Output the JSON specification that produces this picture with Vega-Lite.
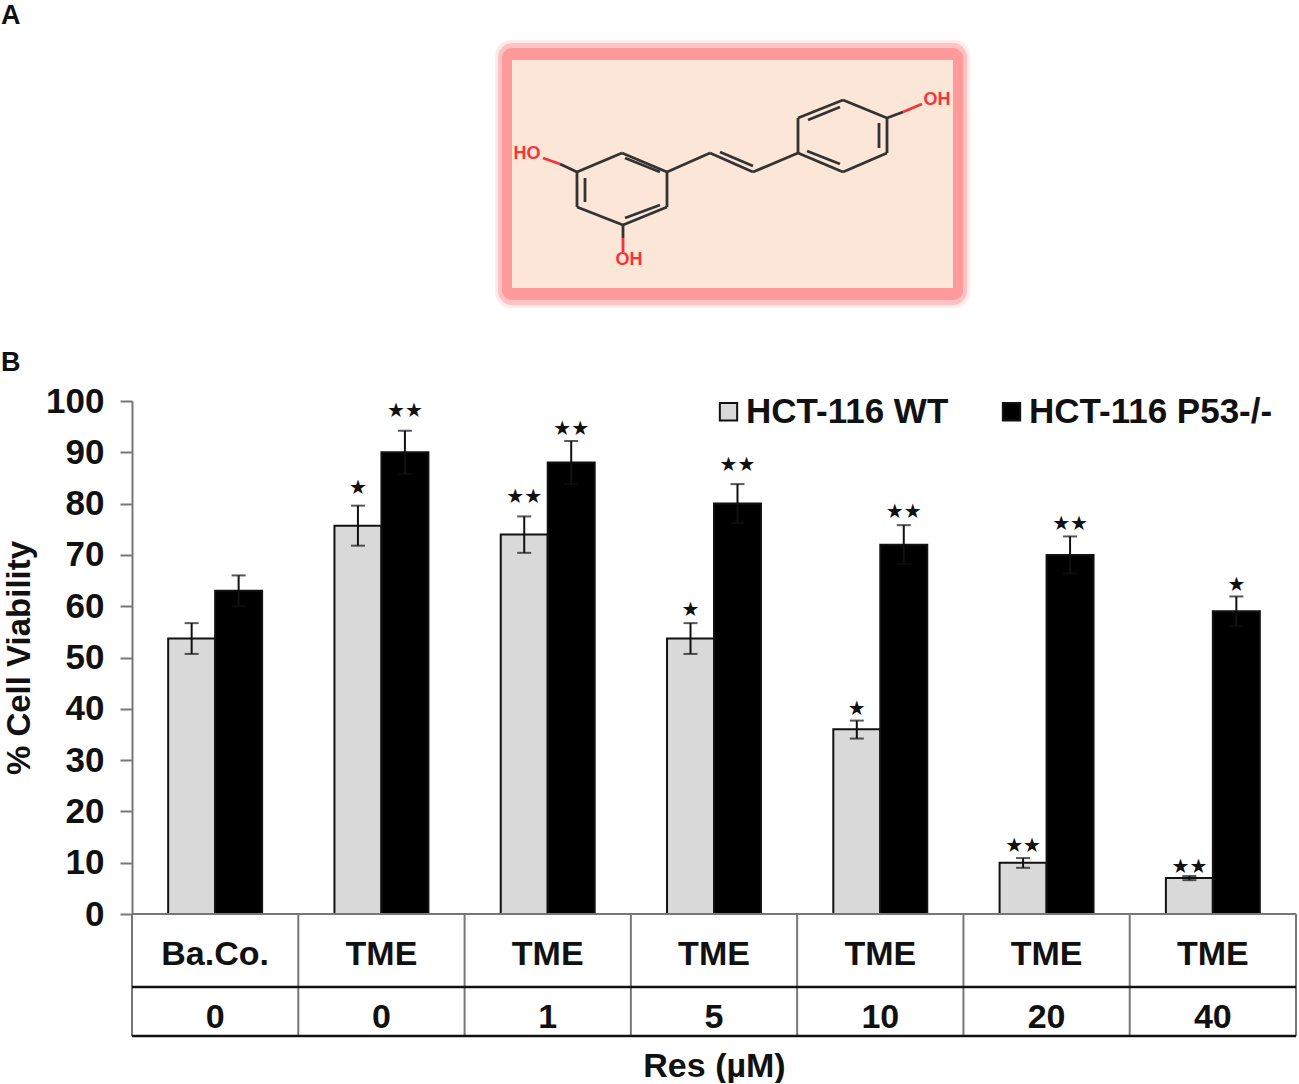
{"$schema":"https://vega.github.io/schema/vega-lite/v6.json","background":"white","padding":{"left":1,"top":2,"right":0,"bottom":0},"spacing":0,"bounds":"flush","resolve":{"scale":{"color":"independent"},"legend":{"color":"independent"}},"config":{"view":{"stroke":null},"font":"Liberation Sans","axis":{"grid":false}},"datasets":{"bars":[
{"group":"Ba.Co. 0","series":"HCT-116 WT","value":53.7,"low":50.7,"high":56.7,"stars":"","starY":0},
{"group":"TME 0","series":"HCT-116 WT","value":75.7,"low":71.8,"high":79.6,"stars":"★","starY":83},
{"group":"TME 1","series":"HCT-116 WT","value":74,"low":70.4,"high":77.5,"stars":"★★","starY":81.3},
{"group":"TME 5","series":"HCT-116 WT","value":53.7,"low":50.7,"high":56.7,"stars":"★","starY":59.3},
{"group":"TME 10","series":"HCT-116 WT","value":36,"low":34.2,"high":37.7,"stars":"★","starY":40},
{"group":"TME 20","series":"HCT-116 WT","value":10,"low":9,"high":10.9,"stars":"★★","starY":13.3},
{"group":"TME 40","series":"HCT-116 WT","value":7,"low":6.6,"high":7.4,"stars":"★★","starY":9.2},
{"group":"Ba.Co. 0","series":"HCT-116 P53-/-","value":63,"low":60,"high":66,"stars":"","starY":0},
{"group":"TME 0","series":"HCT-116 P53-/-","value":90,"low":85.8,"high":94.2,"stars":"★★","starY":98},
{"group":"TME 1","series":"HCT-116 P53-/-","value":88,"low":83.8,"high":92.2,"stars":"★★","starY":94.5},
{"group":"TME 5","series":"HCT-116 P53-/-","value":80,"low":76.2,"high":83.8,"stars":"★★","starY":87.5},
{"group":"TME 10","series":"HCT-116 P53-/-","value":72,"low":68.2,"high":75.8,"stars":"★★","starY":78.4},
{"group":"TME 20","series":"HCT-116 P53-/-","value":70,"low":66.4,"high":73.6,"stars":"★★","starY":76},
{"group":"TME 40","series":"HCT-116 P53-/-","value":59,"low":56.1,"high":61.9,"stars":"★","starY":64.1}],
"table":[{"group":"Ba.Co. 0","treat":"Ba.Co.","res":"0"},{"group":"TME 0","treat":"TME","res":"0"},{"group":"TME 1","treat":"TME","res":"1"},{"group":"TME 5","treat":"TME","res":"5"},{"group":"TME 10","treat":"TME","res":"10"},{"group":"TME 20","treat":"TME","res":"20"},{"group":"TME 40","treat":"TME","res":"40"}],
"bonds":[
{"kind":"bond","x":577,"y":172,"x2":622,"y2":153},{"kind":"bond","x":622,"y":153,"x2":667,"y2":172},{"kind":"bond","x":667,"y":172,"x2":667,"y2":207},{"kind":"bond","x":667,"y":207,"x2":623,"y2":225},{"kind":"bond","x":623,"y":225,"x2":577,"y2":207},{"kind":"bond","x":577,"y":207,"x2":577,"y2":172},
{"kind":"bond","x":585,"y":178,"x2":585,"y2":202},{"kind":"bond","x":625,"y":158,"x2":660,"y2":172},{"kind":"bond","x":660,"y":205,"x2":625,"y2":218},
{"kind":"bond","x":667,"y":172,"x2":710,"y2":153},{"kind":"bond","x":710,"y":153,"x2":753,"y2":172},{"kind":"bond","x":753,"y":172,"x2":798,"y2":153},{"kind":"bond","x":720,"y":152,"x2":753,"y2":166},
{"kind":"bond","x":798,"y":153,"x2":798,"y2":118},{"kind":"bond","x":798,"y":118,"x2":843,"y2":100},{"kind":"bond","x":843,"y":100,"x2":887,"y2":118},{"kind":"bond","x":887,"y":118,"x2":887,"y2":153},{"kind":"bond","x":887,"y":153,"x2":843,"y2":172},{"kind":"bond","x":843,"y":172,"x2":798,"y2":153},
{"kind":"bond","x":808,"y":120,"x2":840,"y2":107},{"kind":"bond","x":879,"y":123,"x2":879,"y2":148},{"kind":"bond","x":840,"y":164,"x2":807,"y2":151},
{"kind":"bond","x":887,"y":118,"x2":903,"y2":112},{"kind":"hydroxyl","x":903,"y":112,"x2":922,"y2":104},
{"kind":"bond","x":577,"y":172,"x2":560,"y2":164},{"kind":"hydroxyl","x":560,"y":164,"x2":543,"y2":158},
{"kind":"bond","x":623,"y":225,"x2":623,"y2":238},{"kind":"hydroxyl","x":623,"y":238,"x2":623,"y2":252}],
"atoms":[{"x":937,"y":100,"t":"OH"},{"x":527,"y":154,"t":"HO"},{"x":629,"y":260,"t":"OH"}]},
"vconcat":[
{"title":{"text":"A","anchor":"start","frame":"group","dx":-131,"dy":2,"fontSize":27,"fontWeight":"bold","color":"#111","offset":0},
"width":1164,"height":373,
"layer":[
{"data":{"values":[{"x":495,"x2":970,"y":40,"y2":308}]},"mark":{"type":"rect","fill":"#ff9a9a","opacity":0.2,"cornerRadius":16},"encoding":{"x":{"field":"x","type":"quantitative","scale":{"domain":[132,1296],"nice":false,"zero":false},"axis":null},"x2":{"field":"x2"},"y":{"field":"y","type":"quantitative","scale":{"domain":[401,28],"nice":false,"zero":false},"axis":null},"y2":{"field":"y2"}}},
{"data":{"values":[{"x":498,"x2":967,"y":43,"y2":305}]},"mark":{"type":"rect","fill":"#ff9a9a","opacity":0.5,"cornerRadius":14},"encoding":{"x":{"field":"x","type":"quantitative","scale":{"domain":[132,1296],"nice":false,"zero":false}},"x2":{"field":"x2"},"y":{"field":"y","type":"quantitative","scale":{"domain":[401,28],"nice":false,"zero":false}},"y2":{"field":"y2"}}},
{"data":{"values":[{"x":502,"x2":963,"y":48,"y2":300}]},"mark":{"type":"rect","fill":"#ff9a9a","cornerRadius":10},"encoding":{"x":{"field":"x","type":"quantitative","scale":{"domain":[132,1296],"nice":false,"zero":false}},"x2":{"field":"x2"},"y":{"field":"y","type":"quantitative","scale":{"domain":[401,28],"nice":false,"zero":false}},"y2":{"field":"y2"}}},
{"data":{"values":[{"x":512,"x2":953,"y":60,"y2":288}]},"mark":{"type":"rect","fill":"#fbe6d8"},"encoding":{"x":{"field":"x","type":"quantitative","scale":{"domain":[132,1296],"nice":false,"zero":false}},"x2":{"field":"x2"},"y":{"field":"y","type":"quantitative","scale":{"domain":[401,28],"nice":false,"zero":false}},"y2":{"field":"y2"}}},
{"data":{"name":"bonds"},"mark":{"type":"rule","strokeWidth":2.8},"encoding":{"x":{"field":"x","type":"quantitative","scale":{"domain":[132,1296],"nice":false,"zero":false}},"x2":{"field":"x2"},"y":{"field":"y","type":"quantitative","scale":{"domain":[401,28],"nice":false,"zero":false}},"y2":{"field":"y2"},"color":{"field":"kind","type":"nominal","scale":{"domain":["bond","hydroxyl"],"range":["#333333","#f5333a"]},"legend":null}}},
{"data":{"name":"atoms"},"mark":{"type":"text","color":"#f5333a","fontSize":18,"fontWeight":"bold","baseline":"middle"},"encoding":{"x":{"field":"x","type":"quantitative","scale":{"domain":[132,1296],"nice":false,"zero":false}},"y":{"field":"y","type":"quantitative","scale":{"domain":[401,28],"nice":false,"zero":false}},"text":{"field":"t"}}}
]},
{"title":{"text":"B","anchor":"start","frame":"group","dx":-131,"fontSize":27,"fontWeight":"bold","color":"#111","offset":7},
"width":1164,"height":513,
"data":{"name":"bars"},
"encoding":{"x":{"field":"group","type":"nominal","sort":null,"scale":{"paddingInner":0.435,"paddingOuter":0.2175},"axis":null},"xOffset":{"field":"series","type":"nominal","sort":["HCT-116 WT","HCT-116 P53-/-"]}},
"layer":[
{"mark":{"type":"bar","stroke":"#111","strokeWidth":2},"encoding":{"y":{"field":"value","type":"quantitative","scale":{"domain":[0,100],"nice":false},"axis":{"values":[0,10,20,30,40,50,60,70,80,90,100],"title":"% Cell Viability","titleFontSize":33,"titleFontWeight":"bold","titleColor":"#111","titlePadding":9,"labelFontSize":35,"labelFontWeight":"bold","labelColor":"#111","labelPadding":16,"tickSize":12,"tickColor":"#777","tickWidth":2,"domainColor":"#777","domainWidth":2}},"color":{"field":"series","type":"nominal","scale":{"domain":["HCT-116 WT","HCT-116 P53-/-"],"range":["#d9d9d9","#000000"]},"legend":{"orient":"none","legendX":579,"legendY":-7,"direction":"horizontal","columns":2,"title":null,"symbolType":"square","symbolSize":300,"symbolStrokeColor":"#111","symbolStrokeWidth":2,"symbolOpacity":1,"labelFontSize":35,"labelFontWeight":"bold","labelColor":"#111","labelOffset":0,"columnPadding":45,"labelLimit":400}}}},
{"mark":{"type":"rule","color":"#111","strokeWidth":2},"encoding":{"y":{"field":"low","type":"quantitative"},"y2":{"field":"high"}}},
{"mark":{"type":"tick","orient":"horizontal","color":"#111","size":14,"thickness":2},"encoding":{"y":{"field":"high","type":"quantitative"}}},
{"mark":{"type":"tick","orient":"horizontal","color":"#111","size":14,"thickness":2},"encoding":{"y":{"field":"low","type":"quantitative"}}},
{"mark":{"type":"text","font":"DejaVu Sans","fontSize":20,"color":"#111","baseline":"middle"},"encoding":{"y":{"field":"starY","type":"quantitative"},"text":{"field":"stars"}}}
]},
{"width":1164,"height":122,
"layer":[
{"data":{"name":"table"},"mark":{"type":"rule","color":"#777","strokeWidth":2},"encoding":{"x":{"field":"group","type":"nominal","sort":null,"bandPosition":0,"scale":{"paddingInner":0,"paddingOuter":0},"axis":{"title":"Res (µM)","titleFontSize":34,"titleFontWeight":"bold","titleColor":"#111","titlePadding":13,"labels":false,"ticks":false,"domain":false}},"y":{"datum":0,"type":"quantitative","scale":{"domain":[0,2.49],"nice":false},"axis":null},"y2":{"datum":2.49}}},
{"data":{"values":[{"group":"TME 40"}]},"mark":{"type":"rule","color":"#777","strokeWidth":2},"encoding":{"x":{"field":"group","type":"nominal","sort":null,"bandPosition":1},"y":{"datum":0,"type":"quantitative"},"y2":{"datum":2.49}}},
{"data":{"values":[{"line":2.49}]},"mark":{"type":"rule","color":"#777","strokeWidth":2},"encoding":{"y":{"field":"line","type":"quantitative"}}},
{"data":{"values":[{"line":1},{"line":0}]},"mark":{"type":"rule","color":"#111","strokeWidth":2.5},"encoding":{"y":{"field":"line","type":"quantitative"}}},
{"data":{"name":"table"},"mark":{"type":"text","fontSize":34,"fontWeight":"bold","color":"#111","baseline":"middle"},"encoding":{"x":{"field":"group","type":"nominal","sort":null},"y":{"datum":1.65,"type":"quantitative"},"text":{"field":"treat"}}},
{"data":{"name":"table"},"mark":{"type":"text","fontSize":34,"fontWeight":"bold","color":"#111","baseline":"middle"},"encoding":{"x":{"field":"group","type":"nominal","sort":null},"y":{"datum":0.36,"type":"quantitative"},"text":{"field":"res"}}}
]}
]}
